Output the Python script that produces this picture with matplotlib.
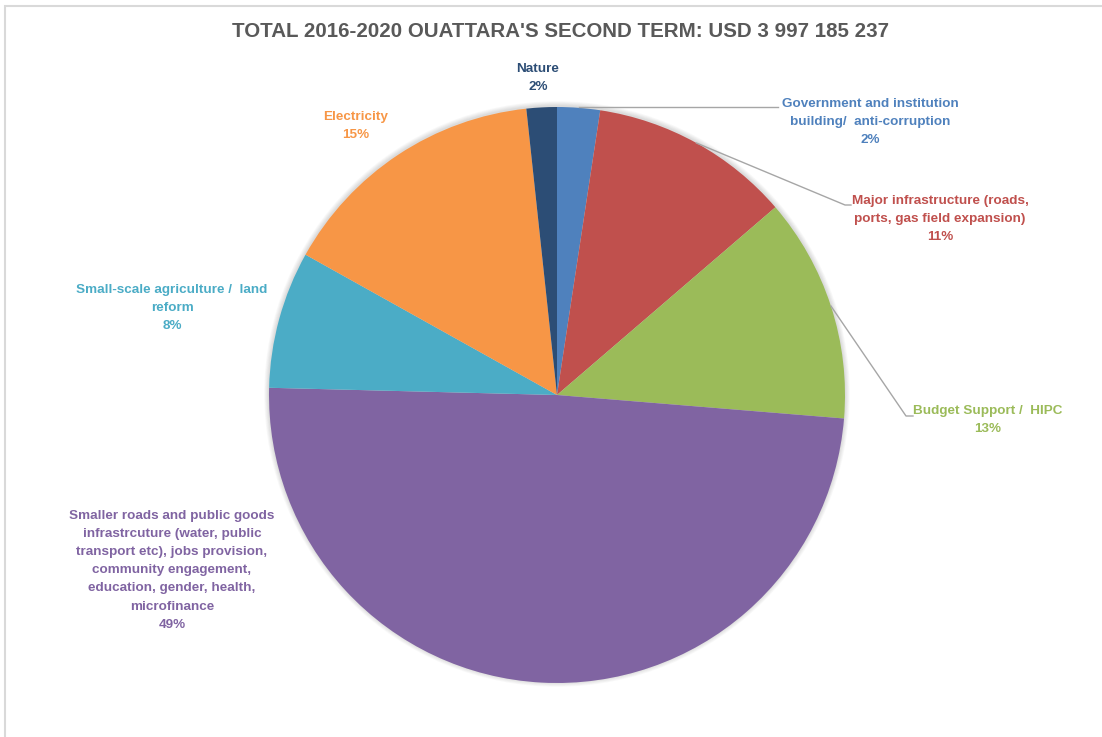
import numpy as np
import matplotlib
matplotlib.use("Agg")
import matplotlib.pyplot as plt
from matplotlib.patches import Circle, Rectangle

# Funding shares by sector (percent of total)
categories = [
    "Government and institution\nbuilding/  anti-corruption",
    "Major infrastructure (roads,\nports, gas field expansion)",
    "Budget Support /  HIPC",
    "Smaller roads and public goods\ninfrastrcuture (water, public\ntransport etc), jobs provision,\n"
    "community engagement,\neducation, gender, health,\nmicrofinance",
    "Small-scale agriculture /  land\nreform",
    "Electricity",
    "Nature",
]
shares = [2.4, 11.3, 12.6, 49.1, 7.7, 15.2, 1.7]
colors = ["#4F81BD", "#C0504D", "#9BBB59", "#8064A2", "#4BACC6", "#F79646", "#2C4D75"]
title = "TOTAL 2016-2020 OUATTARA'S SECOND TERM: USD 3 997 185 237"

W, H = 1102, 737
fig = plt.figure(figsize=(W / 100, H / 100), dpi=100)
ax = fig.add_axes([0, 0, 1, 1])

FONT = ["Liberation Sans", "DejaVu Sans"]

cx, cy, r = 557, H - 395, 288

# soft drop shadow behind the pie
for k in range(6, 0, -1):
    ax.add_patch(Circle((cx, cy + 1), r + k * 0.8, facecolor="#000000",
                        alpha=0.022, edgecolor="none", zorder=1))

wedges, _ = ax.pie(shares, colors=colors, startangle=90, counterclock=False,
                   center=(cx, cy), radius=r, frame=True,
                   wedgeprops=dict(edgecolor="none", zorder=2))
ax.set_xlim(0, W)
ax.set_ylim(0, H)
ax.set_aspect("equal")
ax.axis("off")

# chart-area border
ax.add_patch(Rectangle((4.5, -5), W + 10, H - 5.5 + 5, fill=False,
                       edgecolor="#D9D9D9", lw=1.5, zorder=0))

# label anchor positions (text centre x, first-line centre y in pixel rows from top)
label_pos = [
    (870, 103), (940, 200), (988, 410), (172, 515),
    (172, 289), (356, 116), (538, 68),
]


def edge_point(w):
    mid = np.deg2rad((w.theta1 + w.theta2) / 2)
    return cx + r * np.cos(mid), cy + r * np.sin(mid)


for w, name, val, col, (lx, ly) in zip(wedges, categories, shares, colors, label_pos):
    text = f"{name}\n{round(val)}%"
    ax.text(lx, H - ly + 5, text, ha="center", va="top", color=col,
            fontsize=9.7, fontweight="bold", family=FONT,
            linespacing=1.68, zorder=5)

# leader lines for the labels on the right
lc = "#A6A6A6"
ex, ey = edge_point(wedges[0])
ax.plot([ex, 778], [H - 107, H - 107], color=lc, lw=1, zorder=3)
ex, ey = edge_point(wedges[1])
ax.plot([ex, 845, 851], [ey, H - 205, H - 205], color=lc, lw=1, zorder=3)
ex, ey = edge_point(wedges[2])
ax.plot([ex, 906, 913], [ey, H - 416, H - 416], color=lc, lw=1, zorder=3)

ax.text(560, H - 31, title, ha="center", va="center", color="#595959",
        fontsize=14.8, fontweight="bold", family=FONT, zorder=5)

fig.savefig("out.png", dpi=100, facecolor="white")
